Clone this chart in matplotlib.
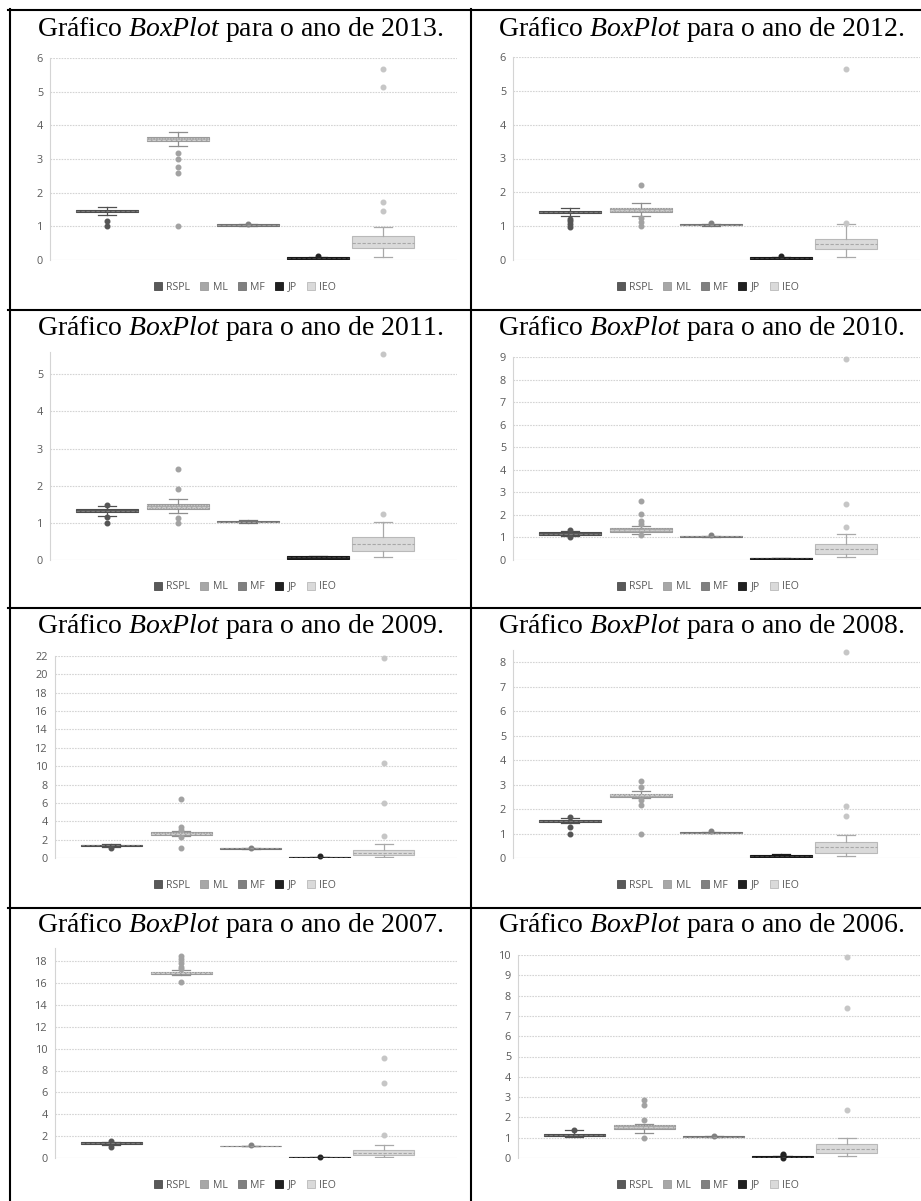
import matplotlib
matplotlib.use("Agg")
import matplotlib.pyplot as plt
from matplotlib.lines import Line2D
from matplotlib.patches import Patch, Rectangle

# ---------------------------------------------------------------- data
YEARS = [2013, 2012, 2011, 2010, 2009, 2008, 2007, 2006]
SERIES = ["RSPL", "ML", "MF", "JP", "IEO"]

whisker_lo = {
    2013: [1.33, 3.40, 1.01, 0.02, 0.10],
    2012: [1.29, 1.29, 1.01, 0.02, 0.08],
    2011: [1.19, 1.27, 1.00, 0.02, 0.07],
    2010: [1.05, 1.14, 1.02, 0.02, 0.12],
    2009: [1.25, 2.40, 1.00, 0.02, 0.10],
    2008: [1.41, 2.45, 1.01, 0.03, 0.10],
    2007: [1.15, 16.70, 1.06, 0.02, 0.10],
    2006: [1.02, 1.21, 1.01, 0.01, 0.08],
}
quart1 = {
    2013: [1.43, 3.52, 1.02, 0.03, 0.35],
    2012: [1.40, 1.43, 1.02, 0.04, 0.32],
    2011: [1.29, 1.38, 1.01, 0.04, 0.24],
    2010: [1.12, 1.23, 1.03, 0.04, 0.27],
    2009: [1.30, 2.50, 1.02, 0.04, 0.33],
    2008: [1.48, 2.50, 1.02, 0.05, 0.20],
    2007: [1.25, 16.85, 1.08, 0.03, 0.30],
    2006: [1.08, 1.43, 1.02, 0.03, 0.26],
}
median = {
    2013: [1.46, 3.57, 1.04, 0.06, 0.50],
    2012: [1.43, 1.49, 1.04, 0.06, 0.46],
    2011: [1.33, 1.44, 1.03, 0.08, 0.42],
    2010: [1.17, 1.32, 1.05, 0.07, 0.48],
    2009: [1.37, 2.65, 1.05, 0.07, 0.55],
    2008: [1.52, 2.57, 1.04, 0.09, 0.44],
    2007: [1.34, 16.95, 1.10, 0.05, 0.50],
    2006: [1.13, 1.52, 1.04, 0.06, 0.43],
}
quart3 = {
    2013: [1.48, 3.64, 1.06, 0.09, 0.71],
    2012: [1.46, 1.54, 1.06, 0.09, 0.62],
    2011: [1.38, 1.50, 1.05, 0.11, 0.61],
    2010: [1.22, 1.40, 1.07, 0.10, 0.70],
    2009: [1.42, 2.78, 1.08, 0.11, 0.87],
    2008: [1.56, 2.62, 1.07, 0.14, 0.66],
    2007: [1.42, 17.05, 1.12, 0.08, 0.72],
    2006: [1.18, 1.63, 1.07, 0.10, 0.69],
}
whisker_hi = {
    2013: [1.56, 3.81, 1.07, 0.10, 0.97],
    2012: [1.53, 1.67, 1.07, 0.10, 1.05],
    2011: [1.45, 1.65, 1.08, 0.12, 1.03],
    2010: [1.30, 1.51, 1.08, 0.11, 1.14],
    2009: [1.48, 2.95, 1.10, 0.13, 1.49],
    2008: [1.63, 2.72, 1.08, 0.17, 0.96],
    2007: [1.48, 17.15, 1.14, 0.09, 1.19],
    2006: [1.36, 1.69, 1.08, 0.12, 1.00],
}
outliers = {
    2013: [[1.16, 1.00], [3.18, 3.01, 2.77, 2.58, 1.00], [1.08], [0.13],
           [1.46, 1.73, 5.15, 5.67]],
    2012: [[1.22, 1.14, 1.06, 0.98], [2.22, 1.25, 1.12, 1.00], [1.08], [0.12],
           [1.08, 5.65]],
    2011: [[1.47, 1.15, 1.00], [2.46, 1.92, 1.12, 1.00], [], [], [1.23, 5.55]],
    2010: [[1.35, 1.00], [2.60, 2.03, 1.75, 1.58, 1.10], [1.10], [],
           [1.46, 2.48, 8.92]],
    2009: [[1.06], [6.45, 3.34, 3.05, 2.32, 1.06], [1.10], [0.20],
           [2.42, 5.95, 10.38, 21.75]],
    2008: [[1.68, 1.27, 1.00], [3.13, 2.92, 2.35, 2.17, 1.00], [1.10], [],
           [1.70, 2.12, 8.42]],
    2007: [[1.52, 0.98], [18.50, 18.15, 17.80, 17.50, 17.25, 16.09], [1.20],
           [0.08], [2.10, 6.83, 9.11]],
    2006: [[1.38], [2.85, 2.60, 1.88, 1.00], [1.10], [0.20, 0.15, 0.00],
           [2.38, 7.38, 9.90]],
}

# value axis: upper limit and tick step per year
y_top = {2013: 6, 2012: 6, 2011: 5.6, 2010: 9, 2009: 22, 2008: 8.5,
         2007: 19.2, 2006: 10}
y_step = {2013: 1, 2012: 1, 2011: 1, 2010: 1, 2009: 2, 2008: 1,
          2007: 2, 2006: 1}

# ---------------------------------------------------------------- style
FILL = ["#595959", "#a7a7a7", "#808080", "#202020", "#dadada"]
EDGE = ["#4c4c4c", "#9a9a9a", "#727272", "#161616", "#b9b9b9"]
MED = ["#7a7a7a", "#cdcdcd", "#9c9c9c", "#3c3c3c", "#a8a8a8"]
WHISK = ["#505050", "#8e8e8e", "#727272", "#1a1a1a", "#a9a9a9"]
FLIER = ["#555555", "#a2a2a2", "#818181", "#222222", "#c6c6c6"]
GRID = "#d4d4d4"
TXT = "#595959"

W, H = 921, 1201
fig = plt.figure(figsize=(W / 100, H / 100), dpi=100)
fig.patch.set_facecolor("white")

plt.rcParams["mathtext.fontset"] = "custom"
plt.rcParams["mathtext.rm"] = "Liberation Serif"
plt.rcParams["mathtext.it"] = "Liberation Serif:italic"
plt.rcParams["hatch.linewidth"] = 0.6


def fx(x):
    return x / W


def fy(y):
    return 1 - y / H


# table grid
for y in [10, 310, 608, 908]:
    fig.add_artist(Line2D([fx(8), fx(921)], [fy(y), fy(y)], color="black",
                          lw=1.5, transform=fig.transFigure))
for x in [10, 471]:
    fig.add_artist(Line2D([fx(x), fx(x)], [fy(9), fy(1201)], color="black",
                          lw=1.5, transform=fig.transFigure))

# panel layout in pixels: left, top, right, bottom of plot area,
# title baseline, legend centre
layout = {
    2013: (50, 58, 457, 260, 36, 245, 287),
    2012: (513, 57, 920, 260, 36, 708, 287),
    2011: (50, 352, 457, 560, 335, 245, 587),
    2010: (513, 357, 920, 560, 335, 708, 587),
    2009: (55, 656, 457, 858, 633, 245, 885),
    2008: (513, 650, 920, 858, 633, 708, 885),
    2007: (55, 948, 457, 1158, 932, 245, 1185),
    2006: (518, 955, 920, 1158, 932, 708, 1185),
}
title_x = {0: 240, 1: 701}
positions = [0.140, 0.314, 0.487, 0.658, 0.818]
box_w = 0.152

for i, year in enumerate(YEARS):
    L, T, R, B, tb, lx, ly = layout[year]
    ax = fig.add_axes([fx(L), fy(B), (R - L) / W, (B - T) / H])
    ax.set_xlim(0, 1)
    ax.set_ylim(0, y_top[year])
    ticks = list(range(0, int(y_top[year]) + 1, y_step[year]))
    ax.set_yticks(ticks)
    ax.set_yticklabels([str(t) for t in ticks])
    ax.set_xticks([])
    ax.tick_params(axis="y", length=0, pad=5, labelsize=7.8, labelcolor=TXT)
    for lab in ax.get_yticklabels():
        lab.set_fontfamily("Open Sans")
    for s in ["top", "right", "bottom"]:
        ax.spines[s].set_visible(False)
    ax.spines["left"].set_color(GRID)
    ax.spines["left"].set_linewidth(0.8)
    for t in ticks:
        ax.axhline(t, color=GRID, lw=0.8,
                   ls="-" if t == 0 else (0, (1.5, 1.0)), zorder=0)

    for k in range(len(SERIES)):
        stats = [{
            "whislo": whisker_lo[year][k], "q1": quart1[year][k],
            "med": median[year][k], "q3": quart3[year][k],
            "whishi": whisker_hi[year][k], "fliers": outliers[year][k],
        }]
        art = ax.bxp(
            stats, positions=[positions[k]], widths=[box_w],
            capwidths=[box_w * 0.3], patch_artist=True, manage_ticks=False,
            boxprops=dict(facecolor=FILL[k], edgecolor=EDGE[k], lw=0.8),
            medianprops=dict(color=MED[k], lw=0.8, ls=(0, (3, 1.5))),
            whiskerprops=dict(color=WHISK[k], lw=0.9),
            capprops=dict(color=WHISK[k], lw=0.9),
            flierprops=dict(marker="o", markersize=3.3,
                            markerfacecolor=FLIER[k],
                            markeredgecolor=FLIER[k]),
        )
        for fl in art["fliers"]:
            fl.set_clip_on(False)
        if SERIES[k] == "ML":
            q1v, q3v = quart1[year][k], quart3[year][k]
            ax.add_patch(Rectangle((positions[k] - box_w / 2, q1v), box_w,
                                   q3v - q1v, facecolor="none",
                                   edgecolor="#c8c8c8", lw=0, hatch="......",
                                   zorder=2.5))

    handles = [Patch(facecolor=FILL[k], edgecolor=EDGE[k], lw=0.6)
               for k in range(len(SERIES))]
    fig.legend(handles, SERIES, loc="center", ncol=5, frameon=False,
               bbox_to_anchor=(fx(lx), fy(ly)),
               handlelength=0.75, handleheight=0.75, handletextpad=0.4,
               columnspacing=1.0, labelcolor=TXT,
               prop={"family": "Open Sans", "size": 7.6})

    fig.text(fx(title_x[i % 2]), fy(tb),
             r"Gráfico $\mathit{BoxPlot}$ para o ano de %d." % year,
             ha="center", va="baseline", fontsize=20,
             family="Liberation Serif", color="black")

fig.savefig("out.png", dpi=100, facecolor="white")
